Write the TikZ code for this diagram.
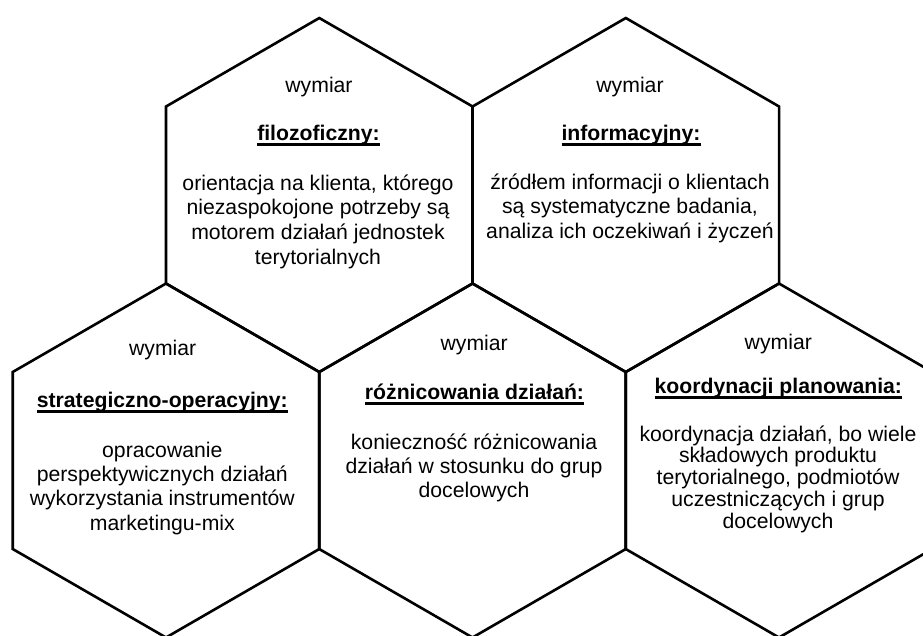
\documentclass[tikz,border=0pt]{standalone}
\usepackage{fontspec}
\setmainfont{Liberation Sans}
% bold heading with a fixed underline bar below the baseline
\newcommand\ulhead[1]{\setbox0=\hbox{\bfseries #1}\rlap{\rule[-5.6pt]{\wd0}{2.2pt}}\box0}
\begin{document}
\begin{tikzpicture}[x=1pt,y=-1pt,
  cell/.style={line width=2.6pt, line join=miter},
  txt/.style={anchor=base, inner sep=0pt, font=\fontsize{21.2}{24.6}\selectfont},
]
\useasboundingbox (0,0) rectangle (923,635);
\clip (0,0) rectangle (923,635);

% honeycomb cells: pointy-top hexagons, circumradius 177
\foreach \cx/\cy in {319.3/195, 625.8/195, 166/460.5, 472.5/460.5, 779/460.5}
  \draw[cell] (\cx,\cy) +(30:177) -- +(90:177) -- +(150:177) -- +(210:177)
    -- +(270:177) -- +(330:177) -- cycle;

% philosophical dimension
\node[txt] (w1) at (319,92) {wymiar};
\node[txt] (h1) at (318.5,140) {\ulhead{filozoficzny:}};
\foreach \ln [count=\i from 0] in {{orientacja na klienta, którego},
    niezaspokojone potrzeby są, motorem działań jednostek, terytorialnych}
  \node[txt] (b1-\i) at (318,190+24.7*\i) {\ln};

% information dimension
\node[txt] (w2) at (630,92) {wymiar};
\node[txt] (h2) at (631,140) {\ulhead{informacyjny:}};
\foreach \ln [count=\i from 0] in {źródłem informacji o klientach,
    {są systematyczne badania,}, analiza ich oczekiwań i życzeń}
  \node[txt] (b2-\i) at (630,189+24.5*\i) {\ln};

% strategic-operational dimension
\node[txt] (w3) at (162.7,355) {wymiar};
\node[txt] (h3) at (162.3,407) {\ulhead{strategiczno-operacyjny:}};
\foreach \ln [count=\i from 0] in {opracowanie, perspektywicznych działań,
    wykorzystania instrumentów, marketingu-mix}
  \node[txt] (b3-\i) at (162.3,457+24.4*\i) {\ln};

% differentiation dimension
\node[txt] (w4) at (474.2,350) {wymiar};
\node[txt] (h4) at (474.5,399) {\ulhead{różnicowania działań:}};
\foreach \ln [count=\i from 0] in {konieczność różnicowania,
    działań w stosunku do grup, docelowych}
  \node[txt] (b4-\i) at (474,449+24.2*\i) {\ln};

% planning coordination dimension
\node[txt] (w5) at (778.3,349) {wymiar};
\node[txt] (h5) at (778.3,393) {\ulhead{koordynacji planowania:}};
\foreach \ln [count=\i from 0] in {{koordynacja działań, bo wiele},
    składowych produktu, {terytorialnego, podmiotów},
    uczestniczących i grup, docelowych}
  \node[txt] (b5-\i) at (778,441+21.8*\i) {\ln};
\end{tikzpicture}
\end{document}
